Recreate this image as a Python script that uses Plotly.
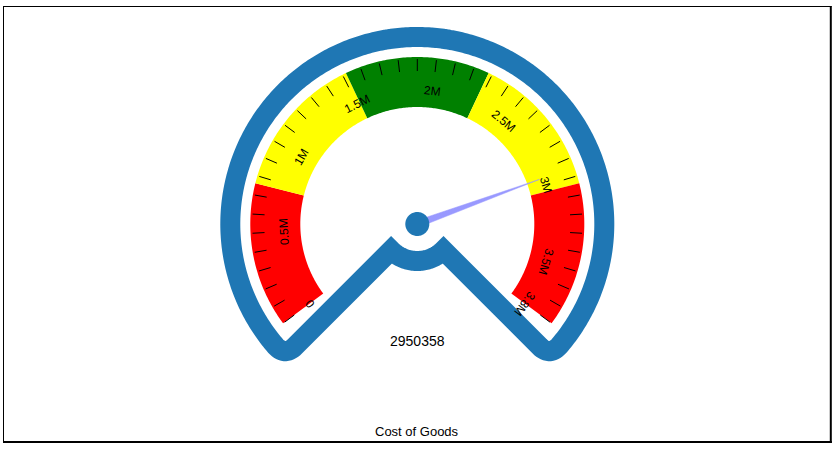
import numpy as np
import plotly.graph_objects as go

# ---- data ----
scale_min = 0
scale_max = 3800000
value = 2950358
title_text = "Cost of Goods"
band_edges = [0, 760000, 1520000, 2280000, 3040000, 3800000]
band_colors = ["#FF0000", "#FFFF00", "#008000", "#FFFF00", "#FF0000"]
minor_tick_step = 100000
label_values = [0, 500000, 1000000, 1500000, 2000000, 2500000, 3000000, 3500000, 3800000]
label_texts = ["0", "0.5M", "1M", "1.5M", "2M", "2.5M", "3M", "3.5M", "3.8M"]

# ---- geometry / style ----
W, H = 837, 450
cx, cy = 417.3, 224.0
A0, A1 = 216.5, -36.5
R_OUT, R_IN = 167, 117
TICK_R0, TICK_R1 = 153, 165
LABEL_R = 134
NEEDLE_R = 130
FRAME_R, FRAME_r = 187, 37
BLUE = "#1F77B4"
FONT = "Liberation Sans, Arial, sans-serif"


def ang(v):
    return A0 + (v - scale_min) / (scale_max - scale_min) * (A1 - A0)


def pt(r, deg):
    t = np.radians(deg)
    return cx + r * np.cos(t), cy - r * np.sin(t)


fig = go.Figure()

# colored bands
for i, col in enumerate(band_colors):
    a, b = ang(band_edges[i]), ang(band_edges[i + 1])
    th = np.linspace(a, b, 80)
    xo, yo = pt(R_OUT, th)
    xi, yi = pt(R_IN, th[::-1])
    xs = np.concatenate([xo, xi, xo[:1]])
    ys = np.concatenate([yo, yi, yo[:1]])
    fig.add_trace(go.Scatter(x=xs, y=ys, fill="toself", fillcolor=col,
                             line=dict(width=0, color=col, simplify=False), mode="lines",
                             hoverinfo="skip", showlegend=False))

# ticks
tick_vals = np.arange(scale_min, scale_max + 1, minor_tick_step)
tx, ty = [], []
for v in tick_vals:
    x0, y0 = pt(TICK_R0, ang(v))
    x1, y1 = pt(TICK_R1, ang(v))
    tx += [x0, x1, None]
    ty += [y0, y1, None]
fig.add_trace(go.Scatter(x=tx, y=ty, mode="lines", line=dict(color="black", width=1),
                         hoverinfo="skip", showlegend=False))

# frame path (big arc, rounded corners, radial lines, small arc)
def bez(p0, p1, p2, n=16):
    t = np.linspace(0, 1, n)[:, None]
    p0, p1, p2 = map(np.array, (p0, p1, p2))
    return (1 - t) ** 2 * p0 + 2 * (1 - t) * t * p1 + t ** 2 * p2

L = 14
dA = np.degrees(L / FRAME_R)
pts = []
th = np.linspace(80, 225 - dA, 200)
pts += list(zip(*pt(FRAME_R, th)))
c1 = bez(pt(FRAME_R, 225 - dA), pt(FRAME_R, 225), pt(FRAME_R - L, 225))
pts += [tuple(p) for p in c1]
pts.append(pt(FRAME_r, 225))
th = np.linspace(225, 315, 60)
pts += list(zip(*pt(FRAME_r, th)))
pts.append(pt(FRAME_R - L, 315))
c2 = bez(pt(FRAME_R - L, 315), pt(FRAME_R, 315), pt(FRAME_R, 315 + dA))
pts += [tuple(p) for p in c2]
th = np.linspace(315 + dA, 460, 200)
pts += list(zip(*pt(FRAME_R, th)))
fx = [p[0] for p in pts]
fy = [p[1] for p in pts]
fig.add_trace(go.Scatter(x=fx, y=fy, mode="lines",
                         line=dict(color=BLUE, width=20, simplify=False),
                         hoverinfo="skip", showlegend=False))

# needle
na = ang(value)
tipx, tipy = pt(NEEDLE_R, na)
b1x, b1y = pt(3.5, na + 90)
b2x, b2y = pt(3.5, na - 90)
fig.add_trace(go.Scatter(x=[b1x, tipx, b2x, b1x], y=[b1y, tipy, b2y, b1y], fill="toself",
                         fillcolor="#9999FF", line=dict(width=0.5, color="#9999FF"),
                         mode="lines", hoverinfo="skip", showlegend=False))
# pivot
pth = np.linspace(0, 360, 90)
px, py = pt(12, pth)
fig.add_trace(go.Scatter(x=px, y=py, fill="toself", fillcolor=BLUE,
                         line=dict(width=0, color=BLUE, simplify=False), mode="lines",
                         hoverinfo="skip", showlegend=False))

annotations = []
for v, t in zip(label_values, label_texts):
    a = ang(v)
    lx, ly = pt(LABEL_R, a)
    annotations.append(dict(x=lx, y=ly, text=t, showarrow=False, textangle=90 - a,
                            xanchor="center", yanchor="middle",
                            font=dict(family=FONT, size=12, color="black")))
annotations.append(dict(x=cx, y=341, text=str(value), showarrow=False,
                        xanchor="center", yanchor="middle",
                        font=dict(family=FONT, size=14, color="black")))
annotations.append(dict(x=cx, y=431, text=title_text, showarrow=False,
                        xanchor="center", yanchor="middle",
                        font=dict(family=FONT, size=13, color="black")))

shapes = [
    dict(type="line", x0=3, x1=831.5, y0=6.5, y1=6.5, line=dict(color="black", width=1)),
    dict(type="line", x0=3.5, x1=3.5, y0=6, y1=443, line=dict(color="black", width=1)),
    dict(type="line", x0=830.8, x1=830.8, y0=6, y1=443, line=dict(color="black", width=2)),
    dict(type="line", x0=3, x1=831.8, y0=442, y1=442, line=dict(color="black", width=2)),
]

fig.update_layout(
    width=W, height=H, margin=dict(l=0, r=0, t=0, b=0),
    paper_bgcolor="white", plot_bgcolor="white",
    xaxis=dict(range=[0, W], visible=False, fixedrange=True),
    yaxis=dict(range=[H, 0], visible=False, fixedrange=True),
    annotations=annotations, shapes=shapes, showlegend=False,
)

fig.write_html("out.html", config={"displayModeBar": False},
               post_script="document.body.style.margin='0';")
